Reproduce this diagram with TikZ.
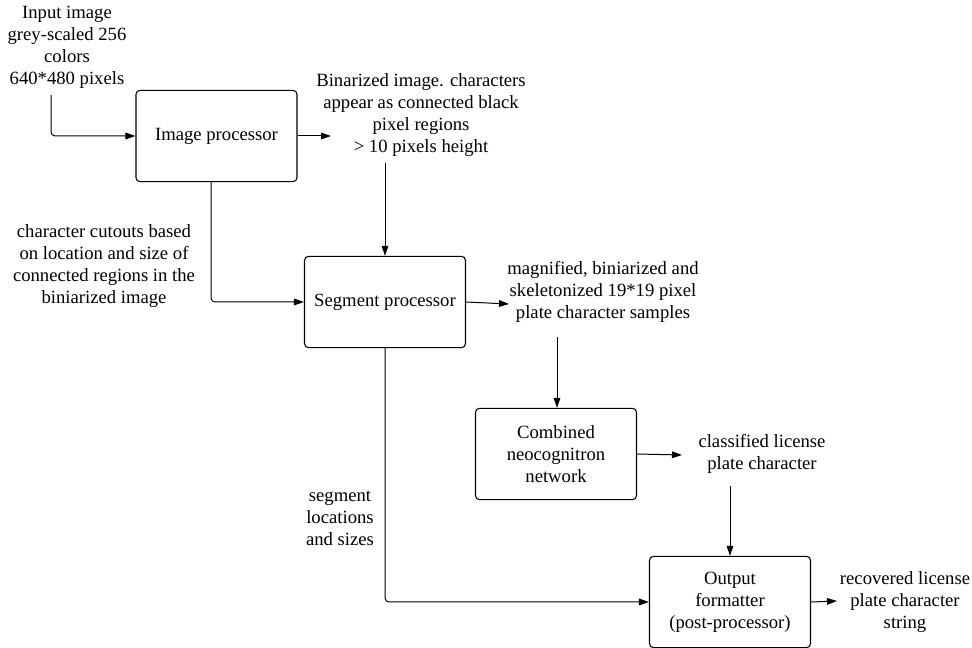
\documentclass[tikz,border=0pt]{standalone}
\usepackage{fontspec}
\newfontfamily\tnr{Liberation Serif}
\usetikzlibrary{arrows.meta}
\begin{document}
\begin{tikzpicture}[x=0.75pt,y=-0.75pt,
  txt/.style={align=center,inner sep=0pt,font=\tnr\fontsize{14}{16.5}\selectfont},
  proc/.style={draw,rounded corners=3pt,line width=0.8pt,align=center,inner sep=0pt,
    minimum width=120.75pt,minimum height=68.5pt,font=\tnr\fontsize{14}{16.5}\selectfont},
  conn/.style={line width=0.75pt,rounded corners=3pt,-{Triangle[length=7.5pt,width=5pt]}}]
\useasboundingbox (0,0) rectangle (972,648);

% boxes
\node[proc] (img) at (216.5,136) {Image processor};
\node[proc] (seg) at (385,302) {Segment processor};
\node[proc] (neo) at (556,454) {Combined\\neocognitron\\network};
\node[proc] (out) at (730,602) {Output\\formatter\\(post-processor)};

% texts
\node[txt] (tin) at (67,47) {Input image\\grey-scaled 256\\colors\\640*480 pixels};
\node[txt] (tbin) at (421,115) {Binarized image. characters\\appear as connected black\\pixel regions\\> 10 pixels height};
\node[txt] (tcut) at (104,266) {character cutouts based\\on location and size of\\connected regions in the\\biniarized image};
\node[txt] (tmag) at (603,292) {magnified, biniarized and\\skeletonized 19*19 pixel\\plate character samples};
\node[txt] (tcls) at (762,454) {classified license\\plate character};
\node[txt] (tsegl) at (340,518) {segment\\locations\\and sizes};
\node[txt] (trec) at (905,602) {recovered license\\plate character\\string};

% free ends
\coordinate (inS) at (51,95);
\coordinate (binE) at (331,136);
\coordinate (binS) at (385,163);
\coordinate (magE) at (509,304);
\coordinate (magS) at (557,337);
\coordinate (clsE) at (682,455);
\coordinate (clsS) at (730,486);
\coordinate (recE) at (837,601);
\coordinate (imgS) at (211,182);

% connectors
\draw[conn] (inS) |- (img.west);
\draw[conn] (img.east) -- (binE);
\draw[conn] (binS) -- (seg.north);
\draw[conn] (imgS) |- (seg.west);
\draw[conn] (seg.east) -- (magE);
\draw[conn] (magS) -- (magS |- neo.north);
\draw[conn] (neo.east) -- (clsE);
\draw[conn] (clsS) -- (out.north);
\draw[conn] (seg.south) |- (out.west);
\draw[conn] (out.east) -- (recE);
\end{tikzpicture}
\end{document}
